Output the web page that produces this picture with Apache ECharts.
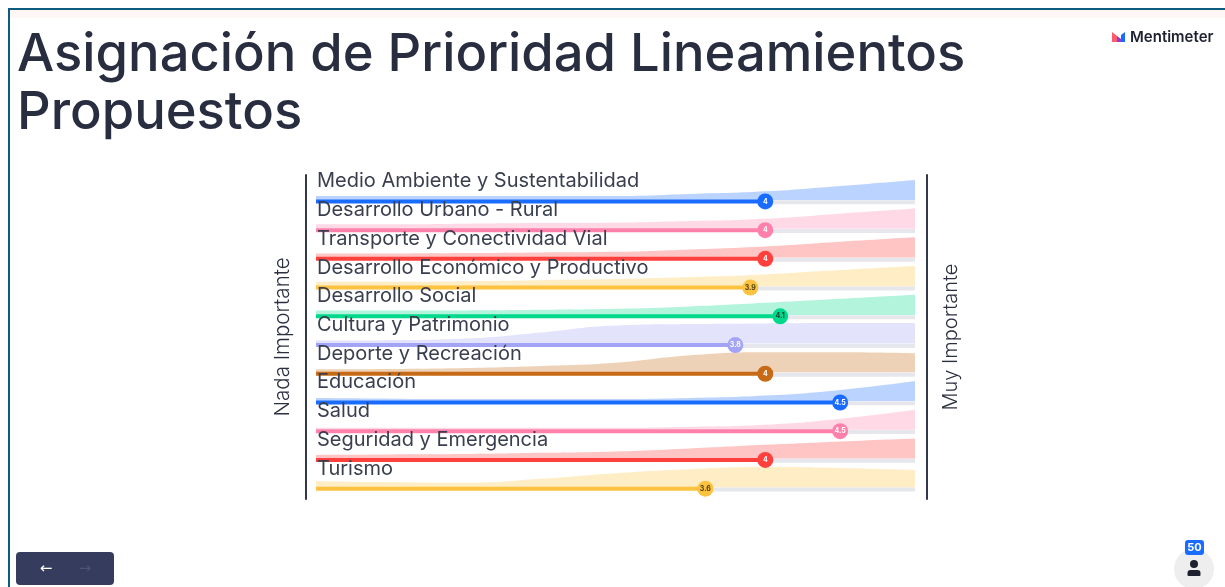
<!DOCTYPE html>
<html>
<head>
<meta charset="utf-8">
<title>Asignación de Prioridad Lineamientos Propuestos</title>
<style>
html, body { margin: 0; padding: 0; background: #fff; }
#chart { width: 1225px; height: 587px; }
</style>
<script src="https://cdn.jsdelivr.net/npm/echarts@6/dist/echarts.min.js"></script>
</head>
<body>
<div id="chart"></div>
<script>
var categories = ['Medio Ambiente y Sustentabilidad', 'Desarrollo Urbano - Rural', 'Transporte y Conectividad Vial',
    'Desarrollo Económico y Productivo', 'Desarrollo Social', 'Cultura y Patrimonio', 'Deporte y Recreación',
    'Educación', 'Salud', 'Seguridad y Emergencia', 'Turismo'];
var means = [4, 4, 4, 3.9, 4.1, 3.8, 4, 4.5, 4.5, 4, 3.6];
var colors = ['#196cff', '#ff80ab', '#ff403d', '#fdc23f', '#00d98c', '#a3a4f5', '#c66a15',
    '#196cff', '#ff80ab', '#ff403d', '#fdc23f'];
var labelColors = ['#fff', '#fff', '#fff', '#4a3c10', '#0b3d2c', '#fff', '#fff', '#fff', '#fff', '#fff', '#4a3c10'];

// distribution shape of the answers, read at each scale step
var scaleSteps = [1, 1.5, 2, 2.5, 3, 3.5, 4, 4.5, 5];
var densities = [
    [.2, .2, .2, .2, .2, .3, .43, .7, 1],
    [.22, .22, .25, .28, .3, .38, .5, .75, 1],
    [.2, .2, .22, .25, .28, .4, .55, .78, 1],
    [.22, .22, .25, .3, .35, .45, .58, .8, 1],
    [.22, .22, .22, .25, .3, .42, .6, .8, 1],
    [.15, .17, .25, .55, .9, .97, 1, 1.02, 1.02],
    [.15, .17, .22, .32, .48, .85, 1, 1, .95],
    [.15, .12, .1, .1, .1, .15, .27, .55, 1],
    [.1, .1, .1, .1, .1, .15, .25, .55, 1],
    [.18, .2, .22, .28, .35, .5, .68, .85, 1],
    [.3, .25, .22, .42, .7, .9, 1, .95, .85]
];

var textColor = '#2b3040';
var font = 'Inter';
var myChart = echarts.init(document.getElementById('chart'));

var series = [];
categories.forEach(function (name, i) {
    // grey track right of the mean
    series.push({
        type: 'line', silent: true, showSymbol: false, z: 1,
        data: [[means[i], i + 0.05], [5, i + 0.05]],
        lineStyle: { color: '#e6e7ec', width: 4 }
    });
    // distribution area
    series.push({
        type: 'line', silent: true, showSymbol: false, z: 2,
        smooth: 0.5,
        data: scaleSteps.map(function (s, k) { return [s, i - 0.03 - densities[i][k] * 0.7]; }),
        lineStyle: { width: 0 },
        areaStyle: { color: colors[i], opacity: 0.3, origin: i - 0.03 }
    });
    // mean bar
    series.push({
        type: 'line', silent: true, showSymbol: false, z: 3,
        data: [[1, i + 0.02], [means[i], i + 0.02]],
        lineStyle: { color: colors[i], width: 4, cap: 'butt' }
    });
    // mean dot with its value
    series.push({
        type: 'scatter', silent: true, z: 4, symbolSize: 16,
        data: [[means[i], i + 0.02]],
        itemStyle: { color: colors[i], opacity: 1 },
        label: {
            show: true, position: 'inside', fontFamily: font, fontSize: 7, fontWeight: 'bold',
            color: labelColors[i], formatter: String(means[i])
        }
    });
    // row label
    series.push({
        type: 'scatter', silent: true, z: 5, symbolSize: 0,
        data: [[1, i]],
        itemStyle: { opacity: 1 },
        label: {
            show: true, position: 'right', distance: 1, offset: [0, -19.5], fontFamily: font, fontSize: 20,
            color: '#3a3f4f', formatter: name
        }
    });
});

var option = {
    animation: false,
    backgroundColor: '#fff',
    title: {
        text: 'Asignación de Prioridad Lineamientos\nPropuestos',
        left: 12, top: 21,
        textStyle: { fontFamily: font, fontSize: 52.5, fontWeight: 500, color: '#282d3f', lineHeight: 58 }
    },
    grid: { left: 316, width: 599, top: 175, height: 324 },
    xAxis: { type: 'value', min: 1, max: 5, show: false },
    yAxis: [{
        type: 'value', min: -0.9, max: 10.38, inverse: true, position: 'left', offset: 10,
        name: 'Nada Importante', nameLocation: 'middle', nameRotate: 90, nameGap: 13,
        nameTextStyle: { fontFamily: font, fontSize: 20.5, fontWeight: 300, color: textColor },
        axisLine: { show: true, onZero: false, lineStyle: { color: '#33394a', width: 2 } },
        axisTick: { show: false }, axisLabel: { show: false }, splitLine: { show: false }
    }, {
        type: 'value', min: -0.9, max: 10.38, inverse: true, position: 'right', offset: 12,
        name: 'Muy Importante', nameLocation: 'middle', nameRotate: 90, nameGap: 14,
        nameTextStyle: { fontFamily: font, fontSize: 20, fontWeight: 300, color: textColor },
        axisLine: { show: true, onZero: false, lineStyle: { color: '#33394a', width: 2 } },
        axisTick: { show: false }, axisLabel: { show: false }, splitLine: { show: false }
    }],
    series: series,
    graphic: [
        // frame of the screenshot
        { type: 'rect', shape: { x: 10, y: 10, width: 1215, height: 8 }, style: { fill: '#fff6f6' }, silent: true },
        { type: 'rect', shape: { x: 8, y: 8, width: 1217, height: 2 }, style: { fill: '#0d5c7f' }, silent: true },
        { type: 'rect', shape: { x: 8, y: 8, width: 2, height: 579 }, style: { fill: '#0d5c7f' }, silent: true },
        // logo
        { type: 'polygon', shape: { points: [[1112, 32], [1117, 36], [1117, 42], [1112, 42]] }, style: { fill: '#ff5a6e' }, silent: true },
        { type: 'polygon', shape: { points: [[1117, 36], [1121, 39], [1121, 42], [1117, 42]] }, style: { fill: '#8a3fd0' }, silent: true },
        { type: 'polygon', shape: { points: [[1125, 32], [1125, 42], [1121, 42], [1121, 35]] }, style: { fill: '#196cff' }, silent: true },
        { type: 'text', style: { x: 1130, y: 37, text: 'Mentimeter', fontFamily: font, fontSize: 15, fontWeight: 600, fill: '#1d2130', textVerticalAlign: 'middle' }, silent: true },
        // back / forward buttons
        { type: 'rect', shape: { x: 16, y: 552, width: 98, height: 33, r: 4 }, style: { fill: '#353c5e' }, silent: true },
        { type: 'text', style: { x: 46, y: 569, text: '←', fontFamily: 'DejaVu Sans', fontSize: 15, fill: '#fff', textAlign: 'center', textVerticalAlign: 'middle' }, silent: true },
        { type: 'text', style: { x: 85, y: 569, text: '→', fontFamily: 'DejaVu Sans', fontSize: 15, fill: '#4c5474', textAlign: 'center', textVerticalAlign: 'middle' }, silent: true },
        // participant counter
        { type: 'circle', shape: { cx: 1194, cy: 569, r: 20 }, style: { fill: '#eeeeee' }, silent: true },
        { type: 'rect', shape: { x: 1185, y: 540, width: 19, height: 15, r: 3 }, style: { fill: '#196cff' }, silent: true },
        { type: 'text', style: { x: 1194.5, y: 548, text: '50', fontFamily: font, fontSize: 11, fontWeight: 700, fill: '#fff', textAlign: 'center', textVerticalAlign: 'middle' }, silent: true },
        { type: 'circle', shape: { cx: 1194, cy: 564, r: 4 }, style: { fill: '#1d2130' }, silent: true },
        { type: 'rect', shape: { x: 1187.5, y: 570, width: 13, height: 6, r: [3, 3, 1, 1] }, style: { fill: '#1d2130' }, silent: true }
    ]
};

myChart.setOption(option);
</script>
</body>
</html>
